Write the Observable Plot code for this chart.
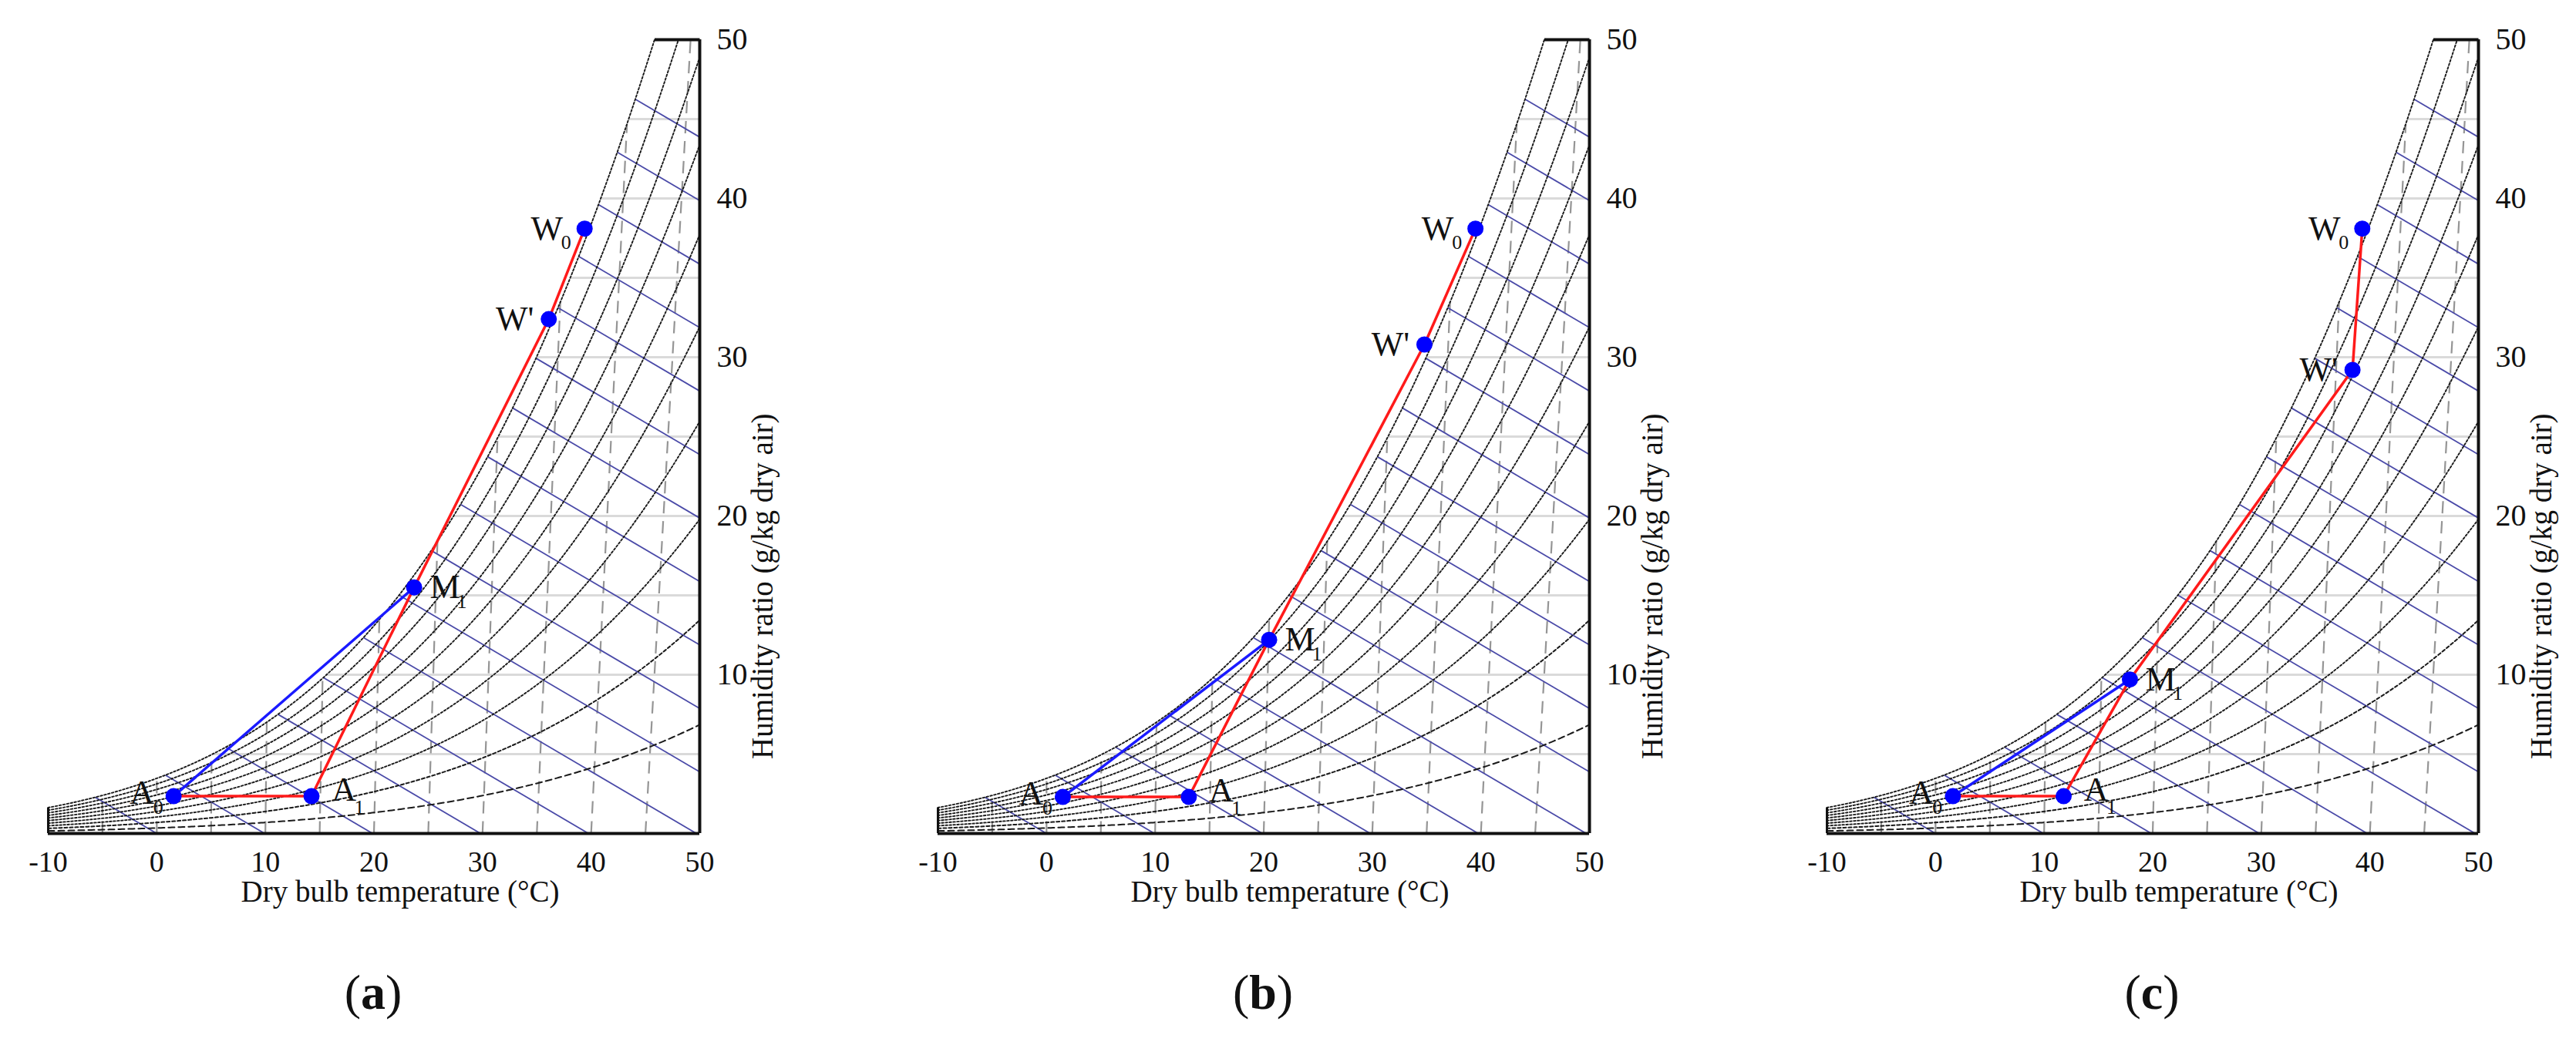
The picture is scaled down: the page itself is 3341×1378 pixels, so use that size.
<!DOCTYPE html>
<html><head><meta charset="utf-8">
<script src="https://cdn.jsdelivr.net/npm/d3@7"></script>
<script src="https://cdn.jsdelivr.net/npm/@observablehq/plot@0.6"></script>
<style>
html,body{margin:0;padding:0;background:#fff;}
#root{position:relative;width:3341px;height:1378px;overflow:hidden;background:#fff;}
.panel{position:absolute;top:0;}
.cap{position:absolute;top:1250px;width:200px;text-align:center;font-family:'Liberation Serif','Times New Roman',serif;font-size:64px;color:#111;line-height:76px;}
</style></head><body><div id="root"></div>
<script>
// ---- data ----
const panelNames = ["a", "b", "c"];
const pointNames = ["W0", "W'", "M1", "A0", "A1"];
// chart x position (dry bulb axis, °C) and humidity ratio (g/kg) of each state point
const tempA = [39.4, 36.1, 23.7, 1.55, 14.25];
const humA  = [38.1, 32.4, 15.5, 2.35, 2.35];
const tempB = [39.5, 34.8, 20.5, 1.5, 13.1];
const humB  = [38.1, 30.8, 12.2, 2.3, 2.3];
const tempC = [39.3, 38.4, 17.9, 1.6, 11.8];
const humC  = [38.1, 29.2, 9.7, 2.35, 2.35];
// psychrometric background
const rhLevels = [10, 20, 30, 40, 50, 60, 70, 80, 90, 100];        // %
const enthalpyLevels = [0, 10, 20, 30, 40, 50, 60, 70, 80, 90, 100, 110, 120, 130, 140, 150, 160]; // kJ/kg
const isotherms = [-5, 0, 5, 10, 15, 20, 25, 30, 35, 40, 45];      // °C
const gridHumidity = [5, 10, 15, 20, 25, 30, 35, 40, 45];          // g/kg
const xTicks = [-10, 0, 10, 20, 30, 40, 50];
const yTicks = [10, 20, 30, 40, 50];
const pressureKPa = 110;

// ---- psychrometric relations ----
const P = pressureKPa;
function pws(T) { return 0.61094 * Math.exp(17.625 * T / (T + 243.04)); }
function humidityAt(T, phi) { const p = phi * pws(T); return 622 * p / (P - p); }
function chartX(T, W) { return T * (1 + 1.86 * W / 1006); }
function satTemp(W) { const p = W * P / (622 + W); const a = Math.log(p / 0.61094); return 243.04 * a / (17.625 - a); }
function satX(W) { return chartX(satTemp(W), W); }

const rhData = [];
for (const rh of rhLevels) {
  for (let T = -10; T <= 60; T += 0.2) {
    const W = humidityAt(T, rh / 100), x = chartX(T, W);
    rhData.push({rh, x, w: W});
    if (W > 50.5 || x > 50.5) break;
  }
}
const enthData = enthalpyLevels.map(h => {
  let lo = 0.001, hi = 80;
  for (let i = 0; i < 80; i++) {
    const m = (lo + hi) / 2;
    const f = (h - 2.501 * m) / 1.006 - satX(m);
    if (f > 0) lo = m; else hi = m;
  }
  return {h, x1: h / 1.006, y1: 0, x2: (h - 2.501 * lo) / 1.006, y2: lo};
});
const isoData = isotherms.map(T => { const Ws = humidityAt(T, 1); return {x1: T, y1: 0, x2: chartX(T, Ws), y2: Ws}; });
const gridData = gridHumidity.map(W => ({x1: satX(W), x2: 50, y: W}));
const wLeft = humidityAt(-10, 1);

const labelStyle = {
  "W0": {t: "W", dx: -49, dy: 0, s: "0", sdx: -24, sdy: 18},
  "W'": {t: "W'", dx: -44, dy: 0, s: "", sdx: 0, sdy: 0},
  "M1": {t: "M", dx: 40, dy: 0, s: "1", sdx: 62, sdy: 18},
  "A0": {t: "A", dx: -41, dy: -4, s: "0", sdx: -20, sdy: 15},
  "A1": {t: "A", dx: 42, dy: -8, s: "1", sdx: 62, sdy: 15}
};

const FONT = "'Liberation Serif','Times New Roman',serif";
const root = document.getElementById("root");
const temps = [tempA, tempB, tempC], hums = [humA, humB, humC];

panelNames.forEach((name, k) => {
  const pts = pointNames.map((n, i) => ({name: n, x: temps[k][i], w: hums[k][i]}));
  const red = [0, 1, 2, 4, 3].map(i => pts[i]);
  const blue = [3, 2].map(i => pts[i]);
  const marks = [
    Plot.link(gridData, {x1: "x1", x2: "x2", y1: "y", y2: "y", stroke: "#dadada", strokeWidth: 3}),
    Plot.link(isoData, {x1: "x1", y1: "y1", x2: "x2", y2: "y2", stroke: "#959595", strokeWidth: 2.2, strokeDasharray: "16,10", clip: "frame"}),
    Plot.link(enthData, {x1: "x1", y1: "y1", x2: "x2", y2: "y2", stroke: "#4a4aa8", strokeWidth: 1.8, clip: "frame"}),
    Plot.line(rhData.filter(d => d.rh === 10), {x: "x", y: "w", z: "rh", stroke: "#1a1a1a", strokeWidth: 2, strokeDasharray: "8,5", clip: "frame"}),
    Plot.line(rhData.filter(d => d.rh === 20), {x: "x", y: "w", z: "rh", stroke: "#1a1a1a", strokeWidth: 2, strokeDasharray: "4,3", clip: "frame"}),
    Plot.line(rhData.filter(d => d.rh > 20), {x: "x", y: "w", z: "rh", stroke: "#1a1a1a", strokeWidth: 1.9, strokeDasharray: "2.5,2.5", clip: "frame"}),
    Plot.ruleY([0], {x1: -10, x2: 50, stroke: "#111", strokeWidth: 4}),
    Plot.ruleX([50], {y1: 0, y2: 50, stroke: "#111", strokeWidth: 4}),
    Plot.link([{x1: satX(50), x2: 50}], {x1: "x1", x2: "x2", y1: 50, y2: 50, stroke: "#111", strokeWidth: 4}),
    Plot.ruleX([-10], {y1: 0, y2: wLeft, stroke: "#111", strokeWidth: 3}),
    Plot.axisX({ticks: xTicks, tickSize: 0, tickPadding: 23, tickFormat: d => String(d), label: null, fontSize: 38}),
    Plot.axisY({anchor: "right", ticks: yTicks, tickSize: 0, tickPadding: 22, tickFormat: d => String(d), label: null, fontSize: 40}),
    Plot.text(["Dry bulb temperature (°C)"], {frameAnchor: "bottom", dx: 34, dy: 88, fontSize: 39, fill: "#111"}),
    Plot.text(["Humidity ratio (g/kg dry air)"], {frameAnchor: "right", rotate: -90, dx: 82, dy: -30, fontSize: 39, fill: "#111"}),
    Plot.line(red, {x: "x", y: "w", stroke: "#ff1a1a", strokeWidth: 3.5}),
    Plot.line(blue, {x: "x", y: "w", stroke: "#1a1aff", strokeWidth: 3.5}),
    Plot.dot(pts, {x: "x", y: "w", r: 10.5, fill: "#0000ff", stroke: "none"})
  ];
  pts.forEach(p => {
    const s = labelStyle[p.name];
    marks.push(Plot.text([p], {x: "x", y: "w", text: () => s.t, dx: s.dx, dy: s.dy, fontSize: 44, fill: "#111"}));
    if (s.s) marks.push(Plot.text([p], {x: "x", y: "w", text: () => s.s, dx: s.sdx, dy: s.sdy, fontSize: 26, fill: "#111"}));
  });
  const svg = Plot.plot({
    width: 1153, height: 1378,
    marginLeft: 62, marginRight: 246, marginTop: 51, marginBottom: 297,
    x: {domain: [-10, 50]}, y: {domain: [0, 50]},
    style: {fontFamily: FONT, fontSize: "38px", color: "#111", background: "transparent", overflow: "visible"},
    marks
  });
  const left = Math.round(k * 1153.5);
  svg.classList.add("panel");
  svg.style.left = left + "px";
  root.appendChild(svg);
  const cap = document.createElement("div");
  cap.className = "cap";
  cap.style.left = (left + 62 + 422 - 100) + "px";
  cap.innerHTML = "(<b>" + name + "</b>)";
  root.appendChild(cap);
});
</script></body></html>
